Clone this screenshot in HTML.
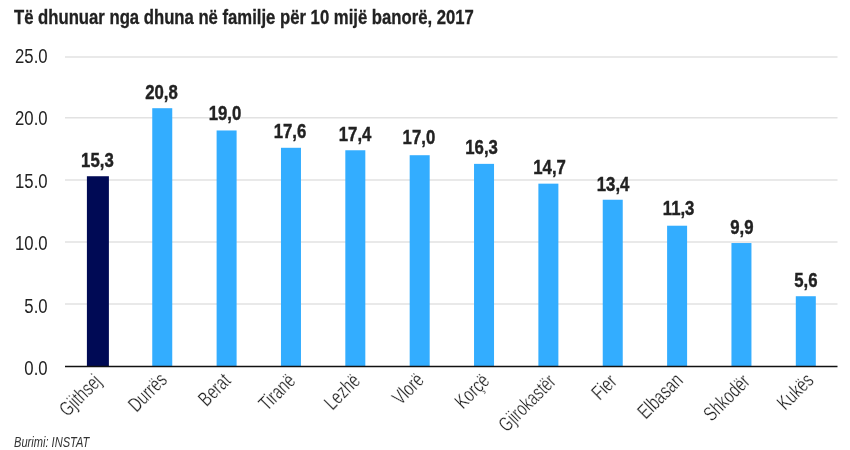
<!DOCTYPE html>
<html><head><meta charset="utf-8"><style>
html,body{margin:0;padding:0;background:#fff;width:850px;height:450px;overflow:hidden}
svg{display:block;will-change:transform}
text{font-family:"Liberation Sans",Arial,sans-serif}
.t{font-weight:bold;font-size:19.5px;fill:#222;stroke:#222;stroke-width:0.3px}
.yl{font-size:21px;fill:#222;text-anchor:end}
.vl{font-weight:bold;font-size:19.5px;fill:#222;text-anchor:middle;stroke:#222;stroke-width:0.4px}
.xl{font-size:20.5px;fill:#222;text-anchor:end;stroke:#fff;stroke-width:0.3px}
.src{font-style:italic;font-size:14.6px;fill:#333}
.g{stroke:#e2e2e2;stroke-width:1.5}
.ax{stroke:#111;stroke-width:1.3}
</style></head><body>
<svg width="850" height="450" viewBox="0 0 850 450">
<rect width="850" height="450" fill="#fff"/>
<text class="t" transform="translate(14,23.6) scale(0.856,1)">Të dhunuar nga dhuna në familje për 10 mijë banorë, 2017</text>
<line x1="65" x2="837.5" y1="304.1" y2="304.1" class="g"/>
<line x1="65" x2="837.5" y1="241.9" y2="241.9" class="g"/>
<line x1="65" x2="837.5" y1="179.9" y2="179.9" class="g"/>
<line x1="65" x2="837.5" y1="117.7" y2="117.7" class="g"/>
<line x1="65" x2="837.5" y1="57.0" y2="57.0" class="g"/>
<text class="yl" transform="translate(47.6,374.80) scale(0.797,1)">0.0</text>
<text class="yl" transform="translate(47.6,312.80) scale(0.797,1)">5.0</text>
<text class="yl" transform="translate(47.6,250.20) scale(0.797,1)">10.0</text>
<text class="yl" transform="translate(47.6,187.80) scale(0.797,1)">15.0</text>
<text class="yl" transform="translate(47.6,125.40) scale(0.797,1)">20.0</text>
<text class="yl" transform="translate(47.6,62.70) scale(0.797,1)">25.0</text>
<rect x="86.90" y="176.24" width="22" height="190.26" fill="#000a55"/>
<text class="vl" transform="translate(97.40,167.40) scale(0.86,1)">15,3</text>
<text class="xl" transform="translate(102.60,382.60) rotate(-45) scale(0.725,1)">Gjithsej</text>
<rect x="152.25" y="108.20" width="20" height="258.30" fill="#33adff"/>
<text class="vl" transform="translate(161.50,99.10) scale(0.86,1)">20,8</text>
<text class="xl" transform="translate(168.25,381.10) rotate(-45) scale(0.732,1)">Durrës</text>
<rect x="216.61" y="130.47" width="20" height="236.03" fill="#33adff"/>
<text class="vl" transform="translate(225.00,120.30) scale(0.86,1)">19,0</text>
<text class="xl" transform="translate(231.91,381.80) rotate(-45) scale(0.732,1)">Berat</text>
<rect x="280.97" y="147.79" width="20" height="218.71" fill="#33adff"/>
<text class="vl" transform="translate(290.00,137.80) scale(0.86,1)">17,6</text>
<text class="xl" transform="translate(296.67,382.00) rotate(-45) scale(0.732,1)">Tiranë</text>
<rect x="345.32" y="150.26" width="20" height="216.24" fill="#33adff"/>
<text class="vl" transform="translate(355.10,141.40) scale(0.86,1)">17,4</text>
<text class="xl" transform="translate(361.32,382.00) rotate(-45) scale(0.732,1)">Lezhë</text>
<rect x="409.68" y="155.21" width="20" height="211.29" fill="#33adff"/>
<text class="vl" transform="translate(418.90,143.70) scale(0.86,1)">17,0</text>
<text class="xl" transform="translate(425.18,381.30) rotate(-45) scale(0.732,1)">Vlorë</text>
<rect x="474.03" y="163.87" width="20" height="202.63" fill="#33adff"/>
<text class="vl" transform="translate(481.60,154.40) scale(0.86,1)">16,3</text>
<text class="xl" transform="translate(490.73,382.00) rotate(-45) scale(0.732,1)">Korçë</text>
<rect x="538.38" y="183.66" width="20" height="182.84" fill="#33adff"/>
<text class="vl" transform="translate(549.60,173.70) scale(0.86,1)">14,7</text>
<text class="xl" transform="translate(557.09,382.70) rotate(-45) scale(0.717,1)">Gjirokastër</text>
<rect x="602.74" y="199.74" width="20" height="166.76" fill="#33adff"/>
<text class="vl" transform="translate(613.10,190.90) scale(0.86,1)">13,4</text>
<text class="xl" transform="translate(618.04,382.70) rotate(-45) scale(0.732,1)">Fier</text>
<rect x="667.10" y="225.72" width="20" height="140.78" fill="#33adff"/>
<text class="vl" transform="translate(678.60,214.70) scale(0.86,1)">11,3</text>
<text class="xl" transform="translate(684.10,381.70) rotate(-45) scale(0.732,1)">Elbasan</text>
<rect x="731.45" y="243.04" width="20" height="123.46" fill="#33adff"/>
<text class="vl" transform="translate(741.90,234.40) scale(0.86,1)">9,9</text>
<text class="xl" transform="translate(751.15,382.70) rotate(-45) scale(0.732,1)">Shkodër</text>
<rect x="795.81" y="296.23" width="20" height="70.27" fill="#33adff"/>
<text class="vl" transform="translate(805.90,286.70) scale(0.86,1)">5,6</text>
<text class="xl" transform="translate(814.81,381.60) rotate(-45) scale(0.732,1)">Kukës</text>
<line x1="65" x2="837.5" y1="366.5" y2="366.5" class="ax"/>
<text class="src" transform="translate(14,446.5) scale(0.76,1)">Burimi: INSTAT</text>
</svg>
</body></html>
